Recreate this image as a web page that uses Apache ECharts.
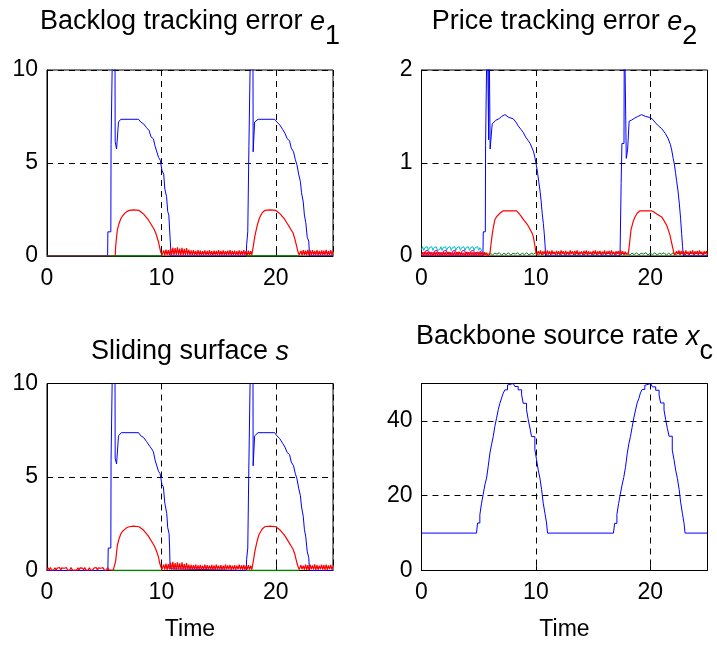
<!DOCTYPE html>
<html><head><meta charset="utf-8">
<script src="https://cdn.jsdelivr.net/npm/echarts@6/dist/echarts.min.js"></script>
<style>html,body{margin:0;padding:0;background:#fff}#c{width:717px;height:648px}</style>
</head><body><div id="c"></div><script>
// ---------- DATA ----------
const xTicks = [0, 10, 20];
// Backlog tracking error e1
const e1Blue = [[0,0],[5.3,0],[5.32,1.3],[5.58,1.3],[5.6,6.0],[5.72,6.0],[5.74,12],[5.94,12],[5.96,6.15],[6.06,6.15],[6.08,5.75],[6.22,5.75],[6.25,7.2],[6.4,7.25],[6.45,7.35],[8.0,7.35],[8.2,7.2],[8.45,7.1],[8.7,6.9],[8.92,6.75],[9.1,6.4],[9.3,6.3],[9.45,5.9],[9.6,5.85],[9.75,5.3],[9.9,5.15],[10.05,4.6],[10.2,4.4],[10.3,3.6],[10.45,3.2],[10.55,2.4],[10.65,2.2],[10.72,1.4],[10.8,1.3],[10.85,0],
  [17.42,0],[17.45,0.6],[17.55,1.3],[17.62,1.3],[17.65,5.9],[17.75,6.0],[17.8,12],[18.0,12],[18.02,5.6],[18.12,5.6],[18.15,7.2],[18.3,7.25],[18.45,7.35],[19.9,7.35],[20.1,7.2],[20.35,7.05],[20.6,6.8],[20.8,6.6],[21.0,6.3],[21.2,6.2],[21.35,5.8],[21.55,5.6],[21.7,5.2],[21.85,4.9],[22.0,4.4],[22.15,4.0],[22.25,3.4],[22.4,2.9],[22.5,2.2],[22.62,1.8],[22.75,1.0],[22.88,0.8],[22.95,0],[25,0]];
const e1RedHump1 = [[0,0],[5.96,0],[6.0,0.5],[6.08,1.0],[6.15,1.4],[6.3,1.75],[6.45,2.0],[6.6,2.15],[6.8,2.3],[7.0,2.4],[7.2,2.45],[7.55,2.48],[8.05,2.45],[8.25,2.35],[8.45,2.25],[8.65,2.1],[8.85,1.95],[9.0,1.85],[9.2,1.6],[9.35,1.45],[9.5,1.25],[9.65,0.95],[9.75,0.75],[9.85,0.45],[9.95,0.2],[10.05,0.05]];
const e1RedHump2 = [[17.95,0.1],[18.05,0.6],[18.15,1.0],[18.25,1.3],[18.4,1.7],[18.55,2.0],[18.7,2.2],[18.85,2.35],[19.05,2.45],[19.5,2.48],[20.0,2.45],[20.2,2.35],[20.4,2.25],[20.6,2.1],[20.8,1.95],[21.0,1.75],[21.2,1.55],[21.35,1.4],[21.5,1.25],[21.65,0.95],[21.75,0.7],[21.85,0.45],[21.95,0.2],[22.05,0.05]];
const e1RedChatB = [0.05,0.30,0.04,0.34,0.06,0.32,0.03,0.40,0.05,0.45,
  0.04,0.42,0.06,0.46,0.05,0.40,0.03,0.44,0.05,0.38,
  0.04,0.42,0.06,0.34,0.05,0.30,0.04,0.32,0.06,0.28,
  0.03,0.31,0.05,0.29,0.04,0.26,0.06,0.30,0.05,0.27,
  0.03,0.32,0.05,0.26,0.04,0.29,0.06,0.27,0.05,0.31,
  0.03,0.28,0.05,0.30,0.04,0.26,0.06,0.29,0.05,0.32,
  0.04,0.27,0.06,0.29,0.05,0.26,0.03,0.30,0.05,0.28,
  0.04,0.31,0.06,0.26,0.05,0.29,0.04,0.26,0.06];
const e1RedChatC = [0.05,0.28,0.04,0.31,0.06,0.29,0.03,0.33,0.05,0.30,
  0.04,0.32,0.06,0.28,0.05,0.31,0.03,0.27,0.05,0.30,
  0.04,0.29,0.06,0.33,0.05,0.27,0.04,0.31,0.06,0.28];
const e1GreenMix = [[0,0],[5.7,0]];
const e1Green = [[5.7,0],[10.05,0],[10.1,'-'],[17.4,0],[22.05,0]];

// Price tracking error e2
const e2Blue = [[0,0],[5.37,0],[5.4,0.26],[5.58,0.26],[5.6,1.19],[5.72,1.19],[5.75,2.6],[5.85,2.6],[5.87,1.25],[5.9,2.6],[5.98,2.6],[6.0,1.15],[6.15,1.15],[6.18,1.42],[6.3,1.44],[6.5,1.46],[6.76,1.475],[7.0,1.5],[7.29,1.52],[7.64,1.49],[8.02,1.475],[8.25,1.44],[8.45,1.4],[8.7,1.36],[8.89,1.33],[9.1,1.28],[9.33,1.24],[9.5,1.21],[9.62,1.19],[9.8,1.12],[9.91,1.06],[10.05,0.97],[10.15,0.89],[10.25,0.8],[10.35,0.71],[10.45,0.6],[10.55,0.46],[10.65,0.35],[10.73,0.24],[10.8,0.12],[10.85,0],
  [17.33,0],[17.36,0.05],[17.45,0.78],[17.5,0.8],[17.52,1.21],[17.7,1.21],[17.73,2.6],[17.85,2.6],[17.9,1.05],[17.97,1.1],[18.02,1.15],[18.1,1.15],[18.15,1.45],[18.35,1.46],[18.6,1.48],[18.9,1.5],[19.24,1.52],[19.6,1.5],[19.97,1.49],[20.2,1.47],[20.4,1.44],[20.7,1.4],[20.99,1.37],[21.3,1.32],[21.57,1.26],[21.75,1.2],[21.87,1.14],[22.0,1.05],[22.1,0.99],[22.2,0.9],[22.3,0.81],[22.42,0.7],[22.54,0.56],[22.65,0.4],[22.74,0.24],[22.82,0.1],[22.89,0],[25,0]];
const e2RedHump1 = [[5.98,0.02],[6.05,0.1],[6.19,0.24],[6.3,0.32],[6.41,0.39],[6.55,0.42],[6.71,0.44],[6.9,0.465],[7.14,0.486],[8.31,0.486],[8.5,0.46],[8.75,0.42],[8.95,0.385],[9.18,0.35],[9.35,0.32],[9.48,0.3],[9.65,0.25],[9.77,0.21],[9.9,0.12],[9.97,0.06],[10.06,0.01]];
const e2RedHump2 = [[18.08,0.02],[18.2,0.15],[18.31,0.28],[18.5,0.37],[18.66,0.42],[18.85,0.46],[19.1,0.486],[20.1,0.486],[20.35,0.47],[20.6,0.45],[20.99,0.42],[21.2,0.38],[21.43,0.33],[21.6,0.27],[21.72,0.225],[21.85,0.15],[22.01,0.06],[22.1,0.01]];
const e2RedChatA = [0.01,0.04,0.00,0.045,0.01,0.04,0.00,0.045,0.01,0.035,
  0.00,0.04,0.01,0.045,0.00,0.04,0.01,0.035,0.00,0.045,
  0.01,0.04,0.00,0.045,0.01,0.04,0.00,0.035,0.01,0.045,
  0.00,0.04,0.01,0.045,0.00,0.04,0.01,0.035,0.00,0.045,
  0.01,0.04,0.00,0.045,0.01,0.04,0.00,0.035,0.01,0.045,
  0.00,0.04,0.01,0.045,0.00,0.04,0.01,0.035,0.00,0.02];
const e2RedChatB = [0.01,0.05,0.02,0.06,0.01,0.05,0.02,0.055,0.01,0.06,
  0.02,0.05,0.01,0.06,0.02,0.045,0.01,0.055,0.02,0.05,
  0.01,0.06,0.02,0.05,0.01,0.055,0.02,0.045,0.01,0.06,
  0.02,0.05,0.01,0.055,0.02,0.06,0.01,0.045,0.02,0.05,
  0.01,0.055,0.02,0.06,0.01,0.05,0.02,0.045,0.01,0.055,
  0.02,0.06,0.01,0.05,0.02,0.055,0.01,0.045,0.02,0.06,
  0.01,0.05,0.02,0.055,0.01,0.06,0.02,0.045,0.01,0.05,
  0.02,0.055,0.01,0.06,0.02,0.05,0.01,0.045,0.02,0.03];
const e2RedChatC = [0.01,0.05,0.02,0.06,0.01,0.055,0.02,0.05,0.01,0.06,
  0.02,0.045,0.01,0.055,0.02,0.06,0.01,0.05,0.02,0.055,
  0.01,0.06,0.02,0.045,0.01,0.05,0.02,0.055,0.01];
const e2Cyan = [0.07,0.10,0.06,0.09,0.07,0.10,0.06,0.09,0.08,0.10,
  0.06,0.09,0.07,0.10,0.06,0.08,0.07,0.10,0.06,0.09,
  0.08,0.10,0.06,0.09,0.07,0.10,0.06,0.09,0.07,0.10,
  0.06,0.09,0.08,0.10,0.06,0.09,0.07,0.10,0.06,0.09,
  0.07,0.10,0.06,0.09,0.08,0.10,0.06,0.09,0.07,0.10,
  0.06,0.09,0.07,0.05];
const e2Magenta = [0.04,0.06,0.03,0.055,0.04,0.06,0.03,0.05,0.04,0.06,
  0.03,0.055,0.04,0.06,0.03,0.05,0.04,0.06,0.03,0.055,
  0.04,0.06,0.03,0.05,0.04,0.06,0.03,0.055,0.04,0.06,
  0.03,0.05,0.04,0.06,0.03,0.055,0.04,0.06,0.03,0.05,
  0.04,0.06,0.03,0.055,0.04,0.06,0.03,0.05,0.04,0.06,
  0.03,0.055,0.02];
const e2Green = [0.01,0.03,0.015,0.035,0.01,0.03,0.02,0.035,0.01,0.03,
  0.015,0.035,0.01,0.03,0.02,0.035,0.01,0.03,0.015,0.035,
  0.01,0.03,0.02,0.035,0.01,0.03,0.015,0.035,0.01,0.03,
  0.02,0.035,0.01,0.03,0.015,0.035,0.01,0.03,0.02,0.035,
  0.01,0.03,0.015,0.035,0.01,0.03,0.02,0.035,0.01,0.03,
  0.015,0.035,0.01,0.03,0.02,0.035,0.01,0.03,0.015,0.035,
  0.01,0.03,0.02,0.035,0.01,0.03,0.015,0.035,0.01,0.03,
  0.02,0.035,0.01,0.03,0.015,0.035,0.01,0.03,0.02,0.035,
  0.01,0.03,0.015,0.035,0.01,0.03,0.02,0.035,0.01,0.03,
  0.015,0.035,0.01,0.03,0.02,0.035,0.01,0.03,0.015];

// Sliding surface s
const sBlue = [[0,0],[5.32,0],[5.35,1.2],[5.58,1.2],[5.6,5.9],[5.72,5.9],[5.74,12],[5.94,12],[5.96,6.0],[6.06,6.0],[6.08,5.7],[6.22,5.7],[6.25,7.2],[6.4,7.3],[6.5,7.37],[8.0,7.37],[8.2,7.2],[8.43,7.12],[8.7,6.9],[9.01,6.62],[9.15,6.5],[9.3,6.35],[9.45,5.9],[9.59,5.81],[9.75,5.3],[9.88,5.19],[10.05,4.6],[10.17,4.47],[10.3,3.6],[10.47,3.04],[10.55,2.3],[10.67,1.97],[10.72,1.2],[10.76,0.09],[10.8,0],
  [17.42,0],[17.45,0.6],[17.55,1.2],[17.62,1.2],[17.65,5.8],[17.75,5.9],[17.8,12],[18.0,12],[18.02,5.6],[18.12,5.6],[18.15,7.2],[18.3,7.28],[18.45,7.37],[19.9,7.37],[20.1,7.2],[20.35,7.05],[20.6,6.8],[20.8,6.6],[21.0,6.3],[21.2,6.2],[21.35,5.8],[21.55,5.6],[21.7,5.2],[21.85,4.9],[22.0,4.4],[22.15,4.0],[22.25,3.4],[22.4,2.9],[22.5,2.2],[22.62,1.8],[22.75,1.0],[22.88,0.7],[22.95,0],[25,0]];
const sRedHump1 = [[5.96,0.05],[6.0,0.5],[6.08,0.95],[6.15,1.35],[6.3,1.7],[6.45,1.95],[6.6,2.1],[6.8,2.2],[7.0,2.3],[7.2,2.34],[7.55,2.37],[8.05,2.34],[8.25,2.25],[8.45,2.15],[8.65,2.0],[8.85,1.85],[9.0,1.75],[9.2,1.5],[9.35,1.35],[9.5,1.15],[9.65,0.9],[9.75,0.7],[9.85,0.4],[9.95,0.2],[10.05,0.05]];
const sRedHump2 = [[17.95,0.1],[18.05,0.55],[18.15,0.95],[18.25,1.25],[18.4,1.65],[18.55,1.95],[18.7,2.1],[18.85,2.25],[19.05,2.34],[19.5,2.37],[20.0,2.34],[20.2,2.25],[20.4,2.15],[20.6,2.0],[20.8,1.85],[21.0,1.65],[21.2,1.45],[21.35,1.3],[21.5,1.15],[21.65,0.9],[21.75,0.65],[21.85,0.4],[21.95,0.2],[22.05,0.05]];
const sRedChatA = [0.02,0.14,0.03,0.16,0.02,0.12,0.04,0.15,0.02,0.13,
  0.03,0.16,0.02,0.14,0.04,0.12,0.02,0.15,0.03,0.13,
  0.02,0.16,0.04,0.14,0.02,0.12,0.03,0.15,0.02,0.14,
  0.04,0.13,0.02,0.16,0.03,0.12,0.02,0.15,0.04,0.14,
  0.02,0.13,0.03,0.16,0.02,0.14,0.04,0.12,0.02,0.15,
  0.03,0.13,0.02,0.16,0.04,0.14,0.02,0.12,0.03,0.05];
const sRedChatB = [0.04,0.32,0.05,0.37,0.03,0.34,0.06,0.42,0.04,0.46,
  0.05,0.40,0.03,0.44,0.06,0.38,0.04,0.43,0.05,0.34,
  0.03,0.39,0.05,0.32,0.04,0.30,0.06,0.29,0.05,0.31,
  0.04,0.27,0.06,0.30,0.03,0.26,0.05,0.31,0.04,0.28,
  0.06,0.26,0.05,0.30,0.03,0.27,0.04,0.31,0.06,0.26,
  0.05,0.29,0.03,0.26,0.04,0.31,0.05,0.27,0.06,0.30,
  0.03,0.26,0.05,0.29,0.04,0.26,0.06,0.31,0.05,0.27,
  0.03,0.30,0.04,0.26,0.06,0.29,0.05,0.26,0.04];
const sRedChatC = [0.04,0.29,0.06,0.26,0.05,0.32,0.03,0.28,0.04,0.31,
  0.06,0.27,0.05,0.33,0.03,0.29,0.04,0.26,0.06,0.31,
  0.05,0.28,0.03,0.32,0.04,0.27,0.06,0.30,0.05,0.26];
const sGreen = [[5.7,0],[10.05,0],[10.1,'-'],[17.4,0],[22.05,0]];

// Backbone source rate x_c
const xcRate = [[0,10],[4.81,10],[4.90,12.7],[5.10,14.9],[5.25,18.0],[5.39,20.3],[5.54,22.9],[5.69,24.7],[5.83,27.8],[5.98,31.4],[6.12,33.6],[6.27,35.8],[6.41,38.5],[6.56,40.7],[6.71,43.0],[6.85,44.7],[7.0,46.1],[7.14,47.4],[7.29,48.3],[7.52,49.6],[7.64,50],[8.02,50],[8.16,49.2],[8.45,48.3],[8.75,47.0],[8.89,44.7],[9.18,43.0],[9.33,40.3],[9.48,38.1],[9.62,35.8],[9.91,32.3],[10.06,29.6],[10.2,26.9],[10.35,24.7],[10.5,21.6],[10.64,18.0],[10.79,15.3],[10.93,12.7],[11.02,10],
  [16.78,10],[16.88,12.6],[17.08,15.0],[17.23,17.9],[17.38,20.4],[17.53,22.8],[17.68,24.9],[17.83,27.6],[17.98,31.2],[18.12,33.8],[18.27,35.9],[18.41,38.3],[18.56,40.8],[18.71,42.9],[18.85,44.8],[19.0,46.0],[19.14,47.5],[19.29,48.4],[19.52,49.5],[19.66,50],[20.04,50],[20.18,49.1],[20.47,48.2],[20.77,46.9],[20.9,44.8],[21.2,42.9],[21.34,40.4],[21.49,38.0],[21.64,35.9],[21.92,32.2],[22.07,29.7],[22.22,26.8],[22.37,24.6],[22.52,21.7],[22.66,18.1],[22.81,15.2],[22.95,12.6],[23.04,10],[25,10]];

// ---------- CHART ----------
const FONT = '"Liberation Sans", Arial, Helvetica, sans-serif';
function seq(t0, dt, vals) { return vals.map((v, i) => [+(t0 + i * dt).toFixed(3), v]); }
const e1Red = [].concat(e1RedHump1, seq(10.1, 0.1, e1RedChatB), e1RedHump2, seq(22.1, 0.1, e1RedChatC));
const e2Red = [].concat(seq(0, 0.1, e2RedChatA), e2RedHump1, seq(10.1, 0.1, e2RedChatB), e2RedHump2, seq(22.2, 0.1, e2RedChatC));
const sRed = [].concat(seq(0, 0.1, sRedChatA), sRedHump1, seq(10.1, 0.1, sRedChatB), sRedHump2, seq(22.1, 0.1, sRedChatC));

const grids = [
  {left: 47, top: 70, width: 286, height: 186},
  {left: 421.5, top: 70, width: 286, height: 186},
  {left: 47, top: 383.5, width: 286, height: 187},
  {left: 421.5, top: 383.5, width: 286, height: 187}
].map(g => Object.assign({show: true, borderColor: '#000', borderWidth: 1, backgroundColor: 'transparent', containLabel: false}, g));

const yCfg = [{max: 10, interval: 5}, {max: 2, interval: 1}, {max: 10, interval: 5}, {max: 50, interval: 20}];
const dash = {color: '#000', type: [6, 5], width: 1};

const xAxes = grids.map((g, i) => ({
  gridIndex: i, type: 'value', min: 0, max: 25, interval: 10,
  axisLine: {show: true, onZero: false, lineStyle: {color: '#000', width: 1}},
  axisTick: {show: true, inside: true, length: 5, lineStyle: {color: '#000'}},
  axisLabel: {color: '#000', fontSize: 23, fontFamily: FONT, margin: 11, showMaxLabel: false,
    formatter: v => xTicks.indexOf(v) >= 0 ? String(v) : ''},
  splitLine: {show: true, lineStyle: dash},
  name: i >= 2 ? 'Time' : '', nameLocation: 'middle', nameGap: 48,
  nameTextStyle: {color: '#000', fontSize: 23, fontFamily: FONT}
}));
const yAxes = grids.map((g, i) => ({
  gridIndex: i, type: 'value', min: 0, max: yCfg[i].max, interval: yCfg[i].interval,
  axisLine: {show: true, onZero: false, lineStyle: {color: '#000', width: 1}},
  axisTick: {show: true, inside: true, length: 5, lineStyle: {color: '#000'}},
  axisLabel: {color: '#000', fontSize: 23, fontFamily: FONT, margin: 9, showMaxLabel: i !== 3},
  splitLine: {show: true, lineStyle: dash}
}));

function ln(gi, data, color, extra) {
  return Object.assign({type: 'line', xAxisIndex: gi, yAxisIndex: gi, data: data, showSymbol: false, symbol: 'none',
    lineStyle: {color: color, width: 1}, itemStyle: {color: color}, animation: false, silent: true, clip: true}, extra || {});
}
const B = '#0000FF', R = '#FF0000', G = '#008000', C = '#00BFBF', M = '#BF00BF';
const series = [
  ln(0, e1Blue, B), ln(0, e1Red, R, {lineStyle: {color: R, width: 1.2}}), ln(0, e1Green, G, {lineStyle: {color: G, width: 1.5}}),
  ln(0, e1GreenMix, G, {lineStyle: {color: G, width: 1.5, opacity: 0.5}}),
  ln(1, e2Blue, B), ln(1, seq(0, 0.1, e2Cyan), C), ln(1, seq(0.05, 0.1, e2Magenta), M),
  ln(1, seq(5.4, 0.2, e2Green), G), ln(1, e2Red, R, {lineStyle: {color: R, width: 1.2}}),
  ln(2, sBlue, B), ln(2, sGreen, G, {lineStyle: {color: G, width: 1.5}}), ln(2, sRed, R, {lineStyle: {color: R, width: 1.2}}),
  ln(3, xcRate, B, {step: 'end'})
];

function title(x, y, parts) {
  const base = {fontSize: 27, fontFamily: FONT, fill: '#000', color: '#000', verticalAlign: 'top'};
  return {type: 'text', x: x, y: y, z: 100, style: {
    text: parts, align: 'center', verticalAlign: 'top', fontSize: 27, fontFamily: FONT, fill: '#000',
    rich: {
      n: Object.assign({}, base),
      i: Object.assign({}, base, {fontStyle: 'italic'}),
      s: Object.assign({}, base, {padding: [15, 0, 0, 0]})
    }
  }};
}

const chart = echarts.init(document.getElementById('c'), null, {renderer: 'canvas'});
chart.setOption({
  backgroundColor: '#fff',
  animation: false,
  grid: grids, xAxis: xAxes, yAxis: yAxes, series: series,
  graphic: [
    title(190, 8.5, '{n|Backlog tracking error }{i|e}{s|1}'),
    title(564.5, 8.5, '{n|Price tracking error }{i|e}{s|2}'),
    title(190, 338.5, '{n|Sliding surface }{i|s}'),
    title(564.5, 323.5, '{n|Backbone source rate }{i|x}{s|c}')
  ]
});
</script></body></html>
